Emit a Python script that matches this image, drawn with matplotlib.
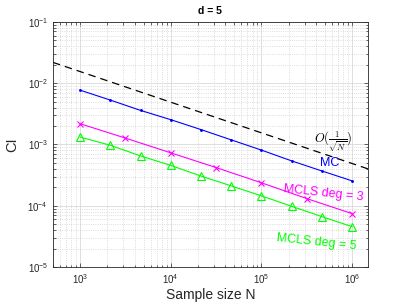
import numpy as np
import matplotlib
matplotlib.use("Agg")
import matplotlib.pyplot as plt

plt.rcParams['font.family'] = ['Liberation Sans', 'DejaVu Sans']
plt.rcParams['mathtext.fontset'] = 'cm'

# sample sizes
N_10 = [1000, 2154, 4642, 10000, 21544, 46416, 100000, 215443, 464159, 1000000]
N_7 = [1000, 3162, 10000, 31623, 100000, 316228, 1000000]

# confidence interval widths
ci_mc = [7.7e-3, 5.3e-3, 3.6e-3, 2.54e-3, 1.75e-3, 1.19e-3, 8.1e-4, 5.4e-4, 3.7e-4, 2.55e-4]
ci_deg3 = [2.18e-3, 1.27e-3, 7.3e-4, 4.2e-4, 2.37e-4, 1.31e-4, 7.45e-5]
ci_deg5 = [1.32e-3, 9.7e-4, 6.5e-4, 4.55e-4, 3.05e-4, 2.11e-4, 1.45e-4, 9.8e-5, 6.65e-5, 4.56e-5]

# O(1/sqrt(N)) reference line
ref_N = [500, 1.5e6]
ref_ci = [0.0219, 4.0e-4]

fig = plt.figure(figsize=(4.07, 3.05), dpi=100)
ax = fig.add_axes([0.130, 0.1246, 0.774, 0.8034])

ax.plot(ref_N, ref_ci, '--', color='black', linewidth=0.9, dashes=(6, 4))
ax.plot(N_10, ci_mc, '.-', color=(0, 0, 1), linewidth=0.8, markersize=2.2)
ax.plot(N_7, ci_deg3, 'x-', color=(1, 0, 1), linewidth=0.8, markersize=4.5, markeredgewidth=0.8)
ax.plot(N_10, ci_deg5, '^-', color=(0, 1, 0), linewidth=0.8, markersize=6,
        markerfacecolor='none', markeredgewidth=0.8)

ax.set_xscale('log')
ax.set_yscale('log')
ax.set_xlim(500, 1.5e6)
ax.set_ylim(1e-5, 1e-1)

ax.grid(True, which='major', color=(0.85, 0.85, 0.85), linewidth=0.6)
ax.grid(True, which='minor', color=(0.82, 0.82, 0.82), linestyle=':', linewidth=0.6)
ax.set_axisbelow(True)

ax.tick_params(which='both', direction='in', top=True, right=True, labelsize=7,
               colors=(0.15, 0.15, 0.15), width=0.5)
ax.tick_params(which='major', length=3)
ax.tick_params(which='minor', length=1.8)
for s in ax.spines.values():
    s.set_color((0.15, 0.15, 0.15))
    s.set_linewidth(0.6)

ax.set_xlabel('Sample size N', fontsize=10, color=(0.15, 0.15, 0.15), labelpad=2)
ax.set_ylabel('CI', fontsize=10.5, color=(0.15, 0.15, 0.15), labelpad=6)
ax.set_title('d = 5', fontsize=7.5, fontweight='bold', pad=6)

ax.text(6.2e5, 1.06e-3, r'$O(\frac{1}{\sqrt{N}})$', fontsize=9, ha='center', va='center')
ax.text(5.7e5, 5.0e-4, 'MC', fontsize=9, color=(0, 0, 1), ha='center', va='center')
ax.text(4.8e5, 1.62e-4, 'MCLS deg = 3', fontsize=9, color=(1, 0, 1), ha='center', va='center',
        rotation=-6, rotation_mode='anchor')
ax.text(4.1e5, 2.57e-5, 'MCLS deg = 5', fontsize=9, color=(0, 1, 0), ha='center', va='center',
        rotation=-6, rotation_mode='anchor')

fig.savefig('out.png', dpi=100)
